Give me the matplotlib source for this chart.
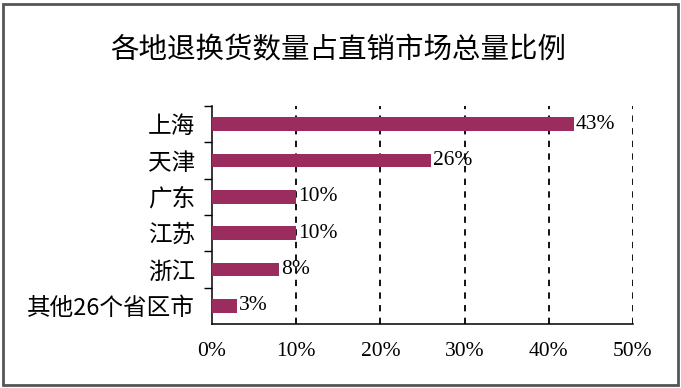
import numpy as np
import matplotlib.pyplot as plt
from matplotlib.patches import Rectangle

plt.rcParams['font.family'] = ['Noto Sans CJK SC', 'DejaVu Sans']

title = '各地退换货数量占直销市场总量比例'
regions = ['上海', '天津', '广东', '江苏', '浙江', '其他26个省区市']
shares = [43, 26, 10, 10, 8, 3]
xticks = [0, 10, 20, 30, 40, 50]

bar_color = '#9B2D5E'
num_font = ['Liberation Serif', 'Noto Sans CJK SC']

fig = plt.figure(figsize=(6.81, 3.88), dpi=100)
ax = fig.add_axes([0.3113, 0.1649, 0.6182, 0.5619])

y = np.arange(len(regions))
ax.barh(y, shares, height=0.38, color=bar_color, zorder=3)
for yi, v in zip(y, shares):
    ax.text(v + 0.2, yi, f'{v}%', va='center', ha='left', fontsize=15.5,
            family=num_font, zorder=4)

ax.set_xlim(0, 50)
ax.set_ylim(len(regions) - 0.5, -0.5)

for xv in xticks[1:]:
    ax.axvline(xv, color='black', lw=1.3, ls=(0, (3.5, 3.5)), zorder=1)

ax.set_xticks(xticks)
ax.set_xticklabels([f'{t}%' for t in xticks], family=num_font, fontsize=15.5)
ax.tick_params(axis='x', length=0, pad=13)

ax.set_yticks(y)
ax.set_yticklabels(regions, fontsize=17)
ax.tick_params(axis='y', which='major', length=0, pad=12)
ax.set_yticks(np.arange(-0.5, len(regions) - 0.5), minor=True)
ax.tick_params(axis='y', which='minor', length=6, width=1, direction='out')

for s in ['top', 'right']:
    ax.spines[s].set_visible(False)
for s in ['left', 'bottom']:
    ax.spines[s].set_linewidth(1.1)

fig.text(0.497, 0.87, title, ha='center', va='center', fontsize=20.5)

fig.patches.append(Rectangle((0.005, 0.008), 0.99, 0.982, transform=fig.transFigure,
                             fill=False, edgecolor='#555555', lw=2))

fig.savefig('out.png', dpi=100)
